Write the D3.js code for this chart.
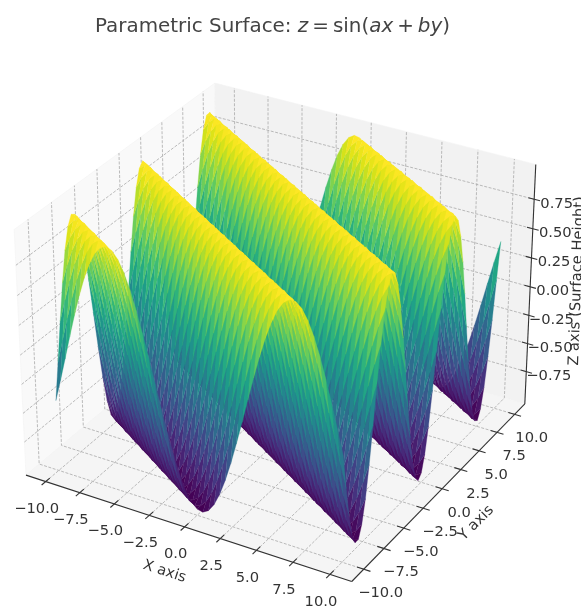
<!DOCTYPE html>
<html>
<head>
<meta charset="utf-8">
<script src="https://cdn.jsdelivr.net/npm/d3@7"></script>
<style>
html,body{margin:0;padding:0;background:#fff;overflow:hidden}
svg{display:block;filter:blur(0.45px)}
text{font-family:"DejaVu Sans",sans-serif;fill:#333}
</style>
</head>
<body>
<svg id="chart" width="581" height="606"></svg>
<script>
// ---- chart values ----
const xTicks = [-10, -7.5, -5, -2.5, 0, 2.5, 5, 7.5, 10];
const yTicks = [-10, -7.5, -5, -2.5, 0, 2.5, 5, 7.5, 10];
const zTicks = [-0.75, -0.5, -0.25, 0, 0.25, 0.5, 0.75];
const xLim = [-11.458, 11.458];
const yLim = [-11.458, 11.458];
const zLim = [-1.0417, 1.0417];
const xDomain = [-10, 10];
const yDomain = [-10, 10];
const gridCells = 50;
const phasePerX = 0.5;   // a
const phasePerY = 0.8;   // b
const phaseStep = 0.04;
// height of the surface across one wave, one entry per phaseStep
const zProfile = [
0,.040,.080,.120,.159,.199,.238,.276,.315,.352,.389,.426,.462,.497,.531,.565,.597,.629,.659,.689,
.717,.745,.771,.796,.819,.841,.862,.882,.900,.917,.932,.946,.958,.969,.978,.985,.991,.996,.999,1,
1,.998,.994,.989,.982,.974,.964,.953,.940,.925,.909,.892,.873,.853,.832,.808,.784,.759,.732,.704,
.675,.645,.614,.582,.549,.516,.481,.446,.409,.372,.335,.297,.259,.220,.181,.141,.101,.061,.022,
-.018,-.058,-.098,-.138,-.178,-.217,-.256,-.295,-.332,-.369,-.406,-.443,-.478,-.513,-.547,-.580,-.612,-.642,-.672,-.701,-.730,
-.757,-.782,-.807,-.831,-.852,-.872,-.891,-.909,-.925,-.939,-.952,-.963,-.973,-.981,-.988,-.994,-.997,-1,-1,-.999,
-.996,-.992,-.986,-.978,-.970,-.959,-.946,-.933,-.918,-.901,-.883,-.864,-.843,-.821,-.798,-.773,-.747,-.720,-.692,-.662,
-.631,-.600,-.567,-.534,-.500,-.465,-.429,-.392,-.355,-.317,-.279,-.240,-.202,-.162,-.123,-.083,-.043];

// ---- view: elevation 30, azimuth -60, box aspect 4:4:3, perspective ----
const boxHalf = [0.5952, 0.5952, 0.4464];
const viewU = [0.8660, 0.5, 0];
const viewV = [-0.25, 0.4330, 0.8660];
const viewW = [0.4330, -0.75, 0.5];
const eyeDist = 10;
const wx = d3.scaleLinear().domain(xLim).range([-boxHalf[0], boxHalf[0]]);
const wy = d3.scaleLinear().domain(yLim).range([-boxHalf[1], boxHalf[1]]);
const wz = d3.scaleLinear().domain(zLim).range([-boxHalf[2], boxHalf[2]]);
const sx = d3.scaleLinear().domain([-1, 1]).range([280 - 313.5, 280 + 313.5]);
const sy = d3.scaleLinear().domain([-1, 1]).range([320.3 + 313.5, 320.3 - 313.5]);
const dot = (a, b) => a[0]*b[0] + a[1]*b[1] + a[2]*b[2];
function project(x, y, z) {
  const p = [wx(x), wy(y), wz(z)];
  const depth = dot(p, viewW);
  const f = 1 / (1 - depth / eyeDist);
  return { px: sx(dot(p, viewU) * f), py: sy(dot(p, viewV) * f), depth };
}
const P = (x, y, z) => { const q = project(x, y, z); return [q.px, q.py]; };

const svg = d3.select("#chart");
const line = d3.line();
const [xa, xb] = xLim, [ya, yb] = yLim, [za, zb] = zLim;

// ---- panes ----
const panes = [
  { fill: "#f9f9f9", pts: [[xa,ya,za],[xa,yb,za],[xa,yb,zb],[xa,ya,zb]] },
  { fill: "#f2f2f2", pts: [[xa,yb,za],[xb,yb,za],[xb,yb,zb],[xa,yb,zb]] },
  { fill: "#f5f5f5", pts: [[xa,ya,za],[xb,ya,za],[xb,yb,za],[xa,yb,za]] }
];
svg.append("g").selectAll("path").data(panes).join("path")
  .attr("d", d => line(d.pts.map(p => P(...p))) + "Z")
  .attr("fill", d => d.fill).attr("stroke", "#f4f4f4").attr("stroke-width", 0.6);

// ---- grid ----
const gridLines = [
  ...xTicks.map(t => [[t,ya,za],[t,yb,za],[t,yb,zb]]),
  ...yTicks.map(t => [[xb,t,za],[xa,t,za],[xa,t,zb]]),
  ...zTicks.map(t => [[xa,ya,t],[xa,yb,t],[xb,yb,t]])
];
svg.append("g").selectAll("path").data(gridLines).join("path")
  .attr("d", d => line(d.map(p => P(...p))))
  .attr("fill", "none").attr("stroke", "#aaa").attr("stroke-width", 0.8)
  .attr("stroke-dasharray", "3,1.5");

// ---- axis lines and tick marks ----
const axisLines = [
  [[xa,ya,za],[xb,ya,za]],
  [[xb,ya,za],[xb,yb,za]],
  [[xb,yb,za],[xb,yb,zb]]
];
const tickMarks = [
  ...xTicks.map(t => [[t,ya-0.45,za],[t,ya+0.45,za]]),
  ...yTicks.map(t => [[xb-0.45,t,za],[xb+0.45,t,za]]),
  ...zTicks.map(t => [[xb-0.4,yb,t],[xb+0.4,yb,t]])
];
svg.append("g").selectAll("path").data([...axisLines, ...tickMarks]).join("path")
  .attr("d", d => line(d.map(p => P(...p))))
  .attr("fill", "none").attr("stroke", "#333").attr("stroke-width", 1.1);

// ---- surface ----
const gx = d3.scaleLinear().domain([0, gridCells]).range(xDomain);
const gy = d3.scaleLinear().domain([0, gridCells]).range(yDomain);
function zAt(i, j) {
  const k = Math.round((phasePerX * gx(i) + phasePerY * gy(j)) / phaseStep);
  const n = zProfile.length;
  return zProfile[((k % n) + n) % n];
}
const quads = [];
d3.range(gridCells).forEach(i => d3.range(gridCells).forEach(j => {
  const corners = [[i,j],[i+1,j],[i+1,j+1],[i,j+1]].map(([a,b]) => {
    const z = zAt(a, b);
    return { z, q: project(gx(a), gy(b), z) };
  });
  quads.push({
    z: d3.mean(corners, c => c.z),
    depth: d3.mean(corners, c => c.q.depth),
    pts: corners.map(c => [c.q.px, c.q.py])
  });
}));
quads.sort((a, b) => a.depth - b.depth);
const colour = d3.scaleSequential(d3.interpolateViridis).domain(d3.extent(quads, d => d.z));
svg.append("g").selectAll("path").data(quads).join("path")
  .attr("d", d => line(d.pts) + "Z")
  .attr("fill", d => colour(d.z))
  .attr("stroke", d => colour(d.z)).attr("stroke-width", 0.3);

// ---- tick labels ----
const fmt = d3.format(".1f"), fmtZ = d3.format(".2f");
const minus = s => s.replace("-", "\u2212");
const tickLabels = [
  ...xTicks.map(t => ({ text: minus(fmt(t)), at: P(t, ya, za), dx: -9, dy: 26 })),
  ...yTicks.map(t => ({ text: minus(fmt(t)), at: P(xb, t, za), dx: 17, dy: 22.5 })),
  ...zTicks.map(t => ({ text: minus(fmtZ(t)), at: P(xb, yb, t), dx: 22.5, dy: 3 }))
];
svg.append("g").selectAll("text").data(tickLabels).join("text")
  .attr("x", d => d.at[0] + d.dx).attr("y", d => d.at[1] + d.dy)
  .attr("text-anchor", "middle").attr("dominant-baseline", "central")
  .attr("font-size", 14.7).text(d => d.text);

// ---- axis labels ----
const axisLabels = [
  { text: "X axis", x: 165, y: 570, r: 18 },
  { text: "Y axis", x: 475, y: 522, r: -45 },
  { text: "Z axis (Surface Height)", x: 575.5, y: 281, r: -88 }
];
svg.append("g").selectAll("text").data(axisLabels).join("text")
  .attr("transform", d => `translate(${d.x},${d.y}) rotate(${d.r})`)
  .attr("text-anchor", "middle").attr("dominant-baseline", "central")
  .attr("font-size", 14.7).text(d => d.text);

// ---- title ----
const titleParts = [
  ["Parametric Surface: ", "normal"], ["z", "italic"], ["\u2009=\u2009", "normal"], ["sin(", "normal"],
  ["ax", "italic"], ["\u2009+\u2009", "normal"], ["by", "italic"], [")", "normal"]
];
svg.append("text").attr("x", 272.5).attr("y", 32).attr("text-anchor", "middle")
  .attr("font-size", 19.9).style("fill", "#444")
  .selectAll("tspan").data(titleParts).join("tspan")
  .attr("font-style", d => d[1]).text(d => d[0]);
</script>
</body>
</html>
